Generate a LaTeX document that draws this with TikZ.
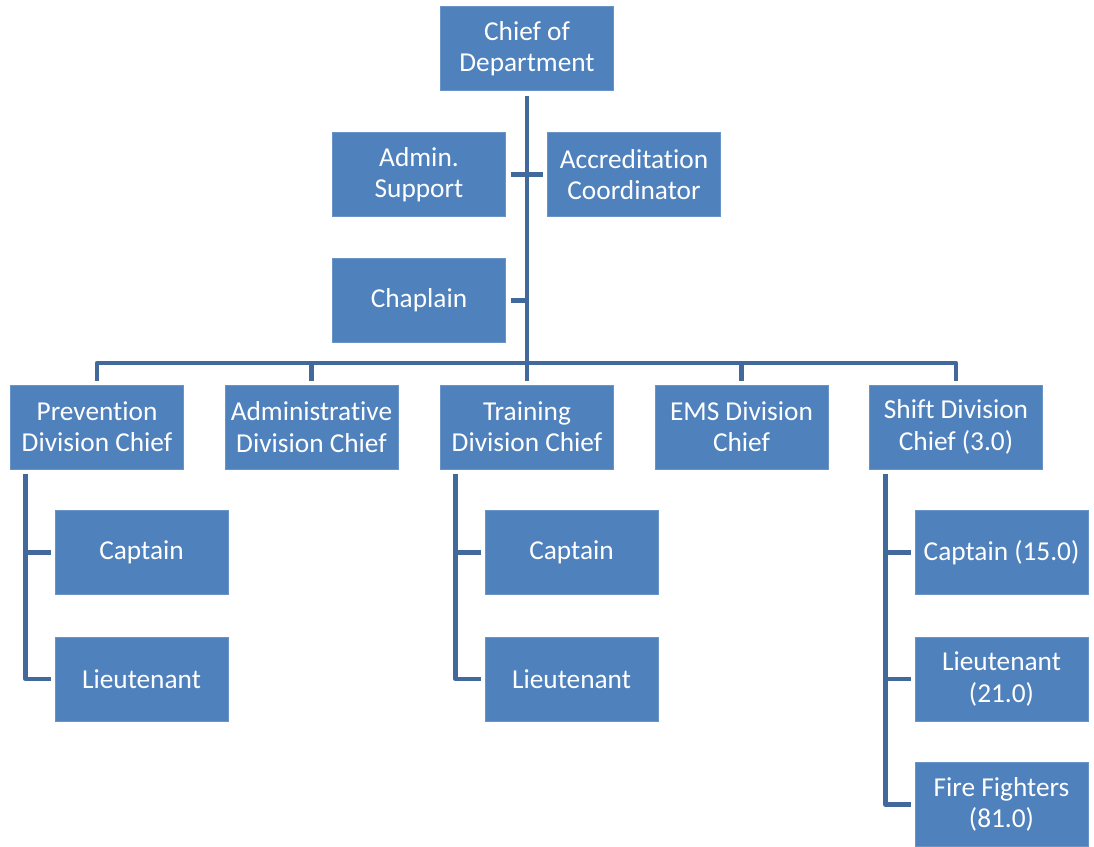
\documentclass[tikz,border=0pt]{standalone}
\usepackage{fontspec}
\setmainfont{Carlito}[Ligatures=NoCommon]
\definecolor{boxblue}{HTML}{4F81BD}
\definecolor{lineblue}{HTML}{41699B}
\begin{document}
\begin{tikzpicture}[x=0.75pt,y=-0.75pt,
  orgbox/.style={rectangle, fill=boxblue, draw=boxblue!85!white, line width=0.5pt,
    minimum width=129.75pt, minimum height=63pt, inner sep=0pt, outer sep=0pt,
    align=center, text=white, font=\fontsize{20.5pt}{23.5pt}\selectfont},
  conn/.style={draw=lineblue, line width=3.2pt, line join=round}]
\useasboundingbox (0,0) rectangle (1094,846);

% top level and staff
\node[orgbox] (chief) at (527,48.5) {Chief of\\Department};
\node[orgbox] (admin) at (419,174.5) {Admin.\\Support};
\node[orgbox] (accred) at (634,174.5) {Accreditation\\Coordinator};
\node[orgbox] (chap) at (419,300.5) {Chaplain};

% divisions
\node[orgbox] (prev) at (97,427) {Prevention\\Division Chief};
\node[orgbox] (admdiv) at (311.5,427) {Administrative\\Division Chief};
\node[orgbox] (train) at (527,427) {Training\\Division Chief};
\node[orgbox] (ems) at (741.5,427) {EMS Division\\Chief};
\node[orgbox] (shift) at (956,427) {Shift Division\\Chief (3.0)};

% prevention staff
\node[orgbox] (pcap) at (141.5,552.5) {Captain};
\node[orgbox] (plt) at (141.5,679) {Lieutenant};
% training staff
\node[orgbox] (tcap) at (571.5,552.5) {Captain};
\node[orgbox] (tlt) at (571.5,679) {Lieutenant};
% shift staff
\node[orgbox] (scap) at (1001.5,552.5) {Captain (15.0)};
\node[orgbox] (slt) at (1001.5,679) {Lieutenant\\(21.0)};
\node[orgbox] (sff) at (1001.5,804.5) {Fire Fighters\\(81.0)};

% trunk and division bar
\coordinate (bar) at (527,363);
\draw[conn] ([yshift=-3.75pt]chief.south) -- (bar);
\draw[conn] ([yshift=3pt]prev.north) -- (prev.north |- bar) -- (shift.north |- bar) -- ([yshift=3pt]shift.north);
\draw[conn] ([yshift=3pt]admdiv.north) -- (admdiv.north |- bar);
\draw[conn] ([yshift=3pt]train.north) -- (train.north |- bar);
\draw[conn] ([yshift=3pt]ems.north) -- (ems.north |- bar);

% staff ties
\draw[conn] ([xshift=3.75pt]admin.east) -- (admin.east -| chief.south);
\draw[conn] ([xshift=-3.75pt]accred.west) -- (accred.west -| chief.south);
\draw[conn] ([xshift=3.75pt]chap.east) -- (chap.east -| chief.south);

% sub-trees
\coordinate (pv) at ([xshift=11.25pt]prev.south west);
\draw[conn] ([yshift=-3.75pt]pv) |- ([xshift=-3pt]plt.west);
\draw[conn] ([xshift=-3pt]pcap.west) -- (pcap.west -| pv);

\coordinate (tv) at ([xshift=11.25pt]train.south west);
\draw[conn] ([yshift=-3.75pt]tv) |- ([xshift=-3pt]tlt.west);
\draw[conn] ([xshift=-3pt]tcap.west) -- (tcap.west -| tv);

\coordinate (sv) at ([xshift=12pt]shift.south west);
\draw[conn] ([yshift=-3.75pt]sv) |- ([xshift=-3pt]sff.west);
\draw[conn] ([xshift=-3pt]scap.west) -- (scap.west -| sv);
\draw[conn] ([xshift=-3pt]slt.west) -- (slt.west -| sv);
\end{tikzpicture}
\end{document}
